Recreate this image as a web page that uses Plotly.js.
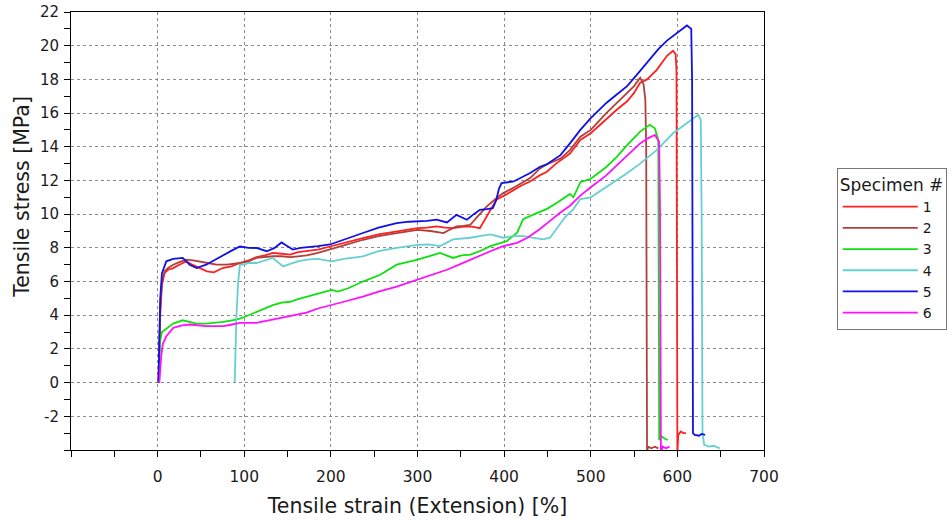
<!DOCTYPE html>
<html>
<head>
<meta charset="utf-8">
<script src="https://cdn.plot.ly/plotly-3.0.1.min.js"></script>
<style>html,body{margin:0;padding:0;background:#fff;}#chart{width:952px;height:523px;}</style>
</head>
<body>
<div id="chart"></div>
<script>
// ---- data (strain %, stress MPa) ----
var specimenNames = ["1", "2", "3", "4", "5", "6"];
var seriesColors = ["#ff2020", "#b0403a", "#10e010", "#66d0d0", "#1010e8", "#ff10ff"];

var strain1 = [1,2,3,5,8,12,18,25,33,40,49,57,65,75,85,95,105,114,124,133,143,153,162,172,185,199,215,237,255,276,290,300,311,322,332,341,351,361,372,380,386,391,400,411,420,430,441,449,460,476,488,500,519,530,542,550,557,565,576,588,595,598,599,600,601,604,607,610];
var stress1 = [0,2.0,4.0,5.8,6.5,6.7,6.8,7.0,7.2,7.0,6.8,6.6,6.55,6.8,6.9,7.1,7.25,7.45,7.55,7.7,7.65,7.6,7.75,7.8,7.9,8.08,8.3,8.58,8.8,8.97,9.1,9.17,9.2,9.27,9.2,9.17,9.25,9.27,9.17,9.86,10.4,10.85,11.1,11.45,11.7,11.94,12.3,12.5,13.0,13.6,14.4,14.8,15.7,16.2,16.7,17.2,17.8,18.0,18.55,19.4,19.7,19.5,18.5,-4.2,-3.1,-2.9,-3.0,-3.0];

var strain2 = [1,2,3,5,8,12,18,25,33,41,49,58,68,80,95,105,114,124,133,143,153,162,172,185,199,215,237,255,276,290,300,315,330,338,345,353,361,370,380,390,399,412,430,441,449,465,476,488,500,518,530,542,550,557,561,563,564,565,566,570,574,578];
var stress2 = [0,2.5,4.5,6.0,6.6,6.8,7.0,7.15,7.3,7.25,7.2,7.1,7.0,7.0,7.1,7.2,7.4,7.45,7.5,7.5,7.45,7.5,7.55,7.7,7.89,8.15,8.48,8.7,8.88,9.0,9.07,9.0,8.88,9.1,9.27,9.3,9.37,9.9,10.46,10.9,11.25,11.6,12.14,12.7,12.95,13.3,13.8,14.6,15.0,16.0,16.6,17.2,17.6,18.1,17.7,16.8,14.0,-4.2,-3.8,-3.9,-3.8,-3.9];

var strain3 = [1,2,3,5,10,18,29,37,45,56,66,76,86,95,105,114,124,133,143,153,162,172,185,201,208,220,237,257,276,290,300,313,326,341,351,361,372,384,403,415,422,435,449,462,476,480,488,500,518,530,542,557,568,574,578,579,582,586,589];
var stress3 = [0,1.5,2.5,3.0,3.2,3.5,3.7,3.6,3.5,3.5,3.55,3.6,3.7,3.8,4.0,4.2,4.4,4.6,4.75,4.8,4.95,5.1,5.3,5.5,5.4,5.6,6.0,6.4,7.0,7.15,7.3,7.5,7.7,7.4,7.55,7.6,7.8,8.1,8.4,8.9,9.7,10.0,10.3,10.7,11.2,11.0,11.9,12.1,12.8,13.4,14.1,14.9,15.3,15.1,14.4,-3.4,-3.2,-3.35,-3.4];

var strain4 = [89,90,91,93,95,100,105,114,124,133,140,145,153,162,172,185,201,215,237,255,276,300,313,326,341,361,372,384,399,410,422,434,445,453,461,470,480,488,500,518,541,557,576,595,611,624,627,628,629,631,636,642,649];
var stress4 = [0,2,4,6,7.0,7.0,7.1,7.1,7.25,7.4,7.1,6.9,7.05,7.2,7.3,7.35,7.2,7.35,7.5,7.8,8.0,8.18,8.2,8.1,8.5,8.6,8.7,8.8,8.6,8.7,8.7,8.6,8.5,8.6,9.2,9.8,10.3,10.9,11.0,11.6,12.4,13.0,13.8,14.8,15.4,15.9,15.6,10,-3.0,-3.7,-3.8,-3.75,-3.9];

var strain5 = [1,2,3,5,8,10,18,29,37,45,56,66,76,86,95,105,114,126,135,143,150,156,165,172,185,199,215,237,255,276,290,300,311,322,334,345,357,365,372,380,387,391,394,397,411,430,441,449,465,476,488,500,518,530,542,557,568,578,588,603,611,616,617,618,620,625,628,632];
var stress5 = [0,3.0,5.0,6.5,7.0,7.2,7.35,7.4,7.0,6.8,7.0,7.3,7.6,7.85,8.08,8.0,7.99,7.8,8.0,8.32,8.1,7.9,8.0,8.05,8.1,8.2,8.5,8.88,9.2,9.47,9.55,9.57,9.6,9.67,9.51,9.96,9.67,10.0,10.26,10.3,10.36,10.85,11.5,11.84,11.94,12.44,12.8,12.95,13.5,14.2,15.0,15.7,16.6,17.1,17.6,18.5,19.2,19.8,20.3,20.9,21.2,21.0,18,-3.0,-3.1,-3.15,-3.05,-3.1];

var strain6 = [2,4,6,10,18,28,37,46,56,66,76,86,95,105,114,124,133,143,153,162,172,185,201,215,237,255,276,300,318,334,348,361,372,384,399,415,427,441,453,465,476,488,500,518,530,542,557,566,574,579,580,581,583,587,591];
var stress6 = [0,1.5,2.3,2.75,3.25,3.4,3.45,3.4,3.35,3.35,3.35,3.45,3.55,3.55,3.55,3.65,3.75,3.85,3.95,4.05,4.15,4.4,4.6,4.8,5.1,5.4,5.7,6.1,6.4,6.7,7.0,7.3,7.55,7.8,8.1,8.3,8.6,9.1,9.6,10.1,10.5,11.1,11.6,12.3,12.9,13.5,14.2,14.5,14.7,14.3,10,-4.2,-3.8,-3.9,-3.8];

var xTickVals = [0,100,200,300,400,500,600,700];
var xTickText = ["0","100","200","300","400","500","600","700"];
var yTickVals = [-2,0,2,4,6,8,10,12,14,16,18,20,22];
var yTickText = ["-2","0","2","4","6","8","10","12","14","16","18","20","22"];

var xs = [strain1, strain2, strain3, strain4, strain5, strain6];
var ys = [stress1, stress2, stress3, stress4, stress5, stress6];

var traces = xs.map(function (x, i) {
  return {
    type: "scatter", mode: "lines", x: x, y: ys[i], name: specimenNames[i],
    line: {color: seriesColors[i], width: 1.8},
    hoverinfo: "skip"
  };
});

var fontFam = "DejaVu Sans, Verdana, sans-serif";
var txtCol = "#1a1a1a";
var layout = {
  width: 952, height: 523,
  paper_bgcolor: "#ffffff", plot_bgcolor: "#ffffff",
  margin: {l: 71, r: 188, t: 12, b: 73, autoexpand: false},
  font: {family: fontFam, size: 15, color: txtCol},
  showlegend: true,
  legend: {
    x: 1.105, xanchor: "left", y: 0.644, yanchor: "top",
    bgcolor: "#ffffff", bordercolor: "#777777", borderwidth: 1,
    font: {family: fontFam, size: 14, color: txtCol},
    title: {text: "Specimen #", font: {family: fontFam, size: 17, color: txtCol}},
    itemwidth: 75, tracegroupgap: 0
  },
  xaxis: {
    range: [-100, 700], tickmode: "array", tickvals: xTickVals, ticktext: xTickText,
    ticks: "outside", ticklen: 6, tickcolor: "#000", showline: true, linecolor: "#000", linewidth: 1, mirror: true,
    showgrid: true, gridcolor: "#8a8a8a", griddash: "dot", gridwidth: 1, zeroline: false,
    minor: {tickmode: "linear", tick0: 0, dtick: 50, ticks: "outside", ticklen: 6, tickcolor: "#000", showgrid: false},
    tickfont: {family: fontFam, size: 15.5, color: txtCol},
    ticklabelstandoff: 6,
    title: {text: "Tensile strain (Extension) [%]", font: {family: fontFam, size: 20.5, color: txtCol}, standoff: 14}
  },
  yaxis: {
    range: [-4, 22], tickmode: "array", tickvals: yTickVals, ticktext: yTickText,
    ticks: "outside", ticklen: 6, tickcolor: "#000", showline: true, linecolor: "#000", linewidth: 1, mirror: true,
    showgrid: true, gridcolor: "#8a8a8a", griddash: "dot", gridwidth: 1, zeroline: false,
    minor: {tickmode: "linear", tick0: 0, dtick: 1, ticks: "outside", ticklen: 6, tickcolor: "#000", showgrid: false},
    tickfont: {family: fontFam, size: 15, color: txtCol},
    ticklabelstandoff: 2
  },
  annotations: [{
    text: "Tensile stress [MPa]", textangle: -90, xref: "paper", yref: "paper",
    x: -0.0707, xanchor: "center", y: 0.578, yanchor: "middle", showarrow: false,
    font: {family: fontFam, size: 20.5, color: txtCol}
  }]
};

Plotly.newPlot("chart", traces, layout, {staticPlot: true, displayModeBar: false});
</script>
</body>
</html>
